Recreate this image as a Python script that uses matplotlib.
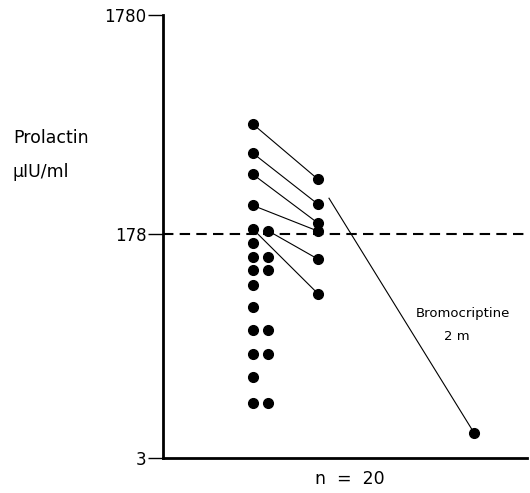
import numpy as np
import matplotlib
matplotlib.use('Agg')
import matplotlib.pyplot as plt

# prolactin values (uIU/ml)
before_a = [566, 417, 334, 241, 188, 151, 117, 92, 71, 47, 31, 20, 13, 8.2]
before_b = [185, 117, 92, 31, 20, 8.2]
after = [317, 244, 200, 184, 113, 60]
# index pairs: which "before" dot links to which "after" dot
pairs = [('a', 0), ('a', 1), ('a', 2), ('a', 3), ('b', 0), ('a', 4)]
brom_start = 260
brom_end = 4.75
yticks = [3, 178, 1780]
cutoff = 178

# column positions on the x axis
x_a, x_b, x_after, x_brom0, x_brom1 = 2.47, 2.88, 4.26, 4.56, 8.54

# axis scale: log, but the part below 178 is squeezed
UP, DOWN = 219.0, 125.8

def fwd(v):
    v = np.clip(np.asarray(v, dtype=float), 1e-6, None)
    l = np.log10(v / cutoff)
    return np.where(l >= 0, l * UP, l * DOWN)

def inv(p):
    p = np.asarray(p, dtype=float)
    return cutoff * np.where(p >= 0, 10 ** (p / UP), 10 ** (p / DOWN))

fig = plt.figure(figsize=(5.30, 4.93), dpi=100)
ax = fig.add_axes([163 / 530, 35.3 / 493, (527 - 163) / 530, (457.7 - 15) / 493])
ax.set_yscale('function', functions=(fwd, inv))
ax.set_ylim(3, 1780)
ax.set_xlim(0, 10)

ms = 7
ax.plot([x_a] * len(before_a), before_a, 'o', color='black', ms=ms)
ax.plot([x_b] * len(before_b), before_b, 'o', color='black', ms=ms)
ax.plot([x_after] * len(after), after, 'o', color='black', ms=ms)

for k, (col, i) in enumerate(pairs):
    if col == 'a':
        x0, y0 = x_a, before_a[i]
    else:
        x0, y0 = x_b, before_b[i]
    ax.plot([x0, x_after], [y0, after[k]], color='black', lw=0.8)

ax.plot([x_brom0, x_brom1], [brom_start, brom_end], color='black', lw=0.8)
ax.plot([x_brom1], [brom_end], 'o', color='black', ms=ms)

ax.axhline(cutoff, color='black', lw=1.5, dashes=(5, 3), clip_on=False)

ax.text(8.24, 41.9, 'Bromocriptine', fontsize=9.5, ha='center', va='center')
ax.text(8.08, 27.5, '2 m', fontsize=9.5, ha='center', va='center')

for s in ['top', 'right']:
    ax.spines[s].set_visible(False)
ax.spines['left'].set_linewidth(2)
ax.spines['bottom'].set_linewidth(2)
ax.set_yticks(yticks)
ax.set_yticklabels([str(t) for t in yticks], fontsize=12)
ax.yaxis.set_minor_locator(plt.NullLocator())
ax.tick_params(axis='y', length=11, width=1, pad=1)
ax.set_xticks([])

fig.text(13 / 530, 1 - 138 / 493, 'Prolactin', fontsize=12.5, va='center', ha='left')
fig.text(13 / 530, 1 - 172 / 493, '\u03bcIU/ml', fontsize=12.5, va='center', ha='left')
fig.text(350 / 530, 1 - 479 / 493, 'n  =  20', fontsize=12.5, va='center', ha='center')

fig.savefig('out.png', dpi=100)
